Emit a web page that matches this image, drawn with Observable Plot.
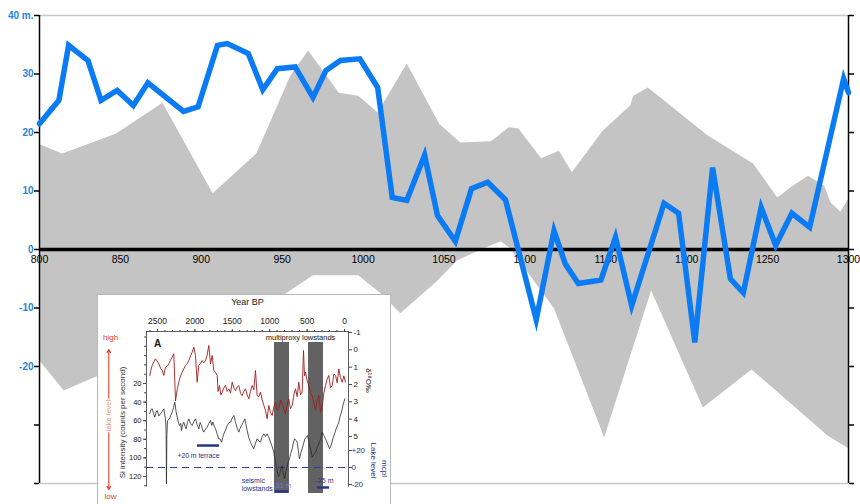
<!DOCTYPE html>
<html><head><meta charset="utf-8">
<script src="https://cdn.jsdelivr.net/npm/d3@7"></script>
<script src="https://cdn.jsdelivr.net/npm/@observablehq/plot@0.6"></script>
<style>
body{margin:0;background:#fff;}
#wrap{position:relative;width:860px;height:504px;overflow:hidden;font-family:"Liberation Sans",Arial,sans-serif;}
#inset{position:absolute;left:97px;top:294px;width:294px;height:220px;background:#fff;border:1px solid #b8b8b8;box-sizing:border-box;overflow:hidden;}
#inset svg, #main svg{display:block;}
</style></head><body>
<div id="wrap"><div id="main"></div><div id="inset"></div></div>
<script>
// ---------- main chart data ----------
const xTicks = [800, 850, 900, 950, 1000, 1050, 1100, 1150, 1200, 1250, 1300];
const yTicks = [40, 30, 20, 10, 0, -10, -20, -30, -40];
const yTickLabels = ["40 m.", "30", "20", "10", "0", "-10", "-20", "", ""];

// blue series: [year, metres]
const blueSeries = [[800,21.5],[812,25.5],[818,34.9],[830,32.3],[838,25.5],[848,27.2],[858,24.6],[867,28.5],[889,23.6],[898,24.4],[910,34.9],[916,35.2],[929,33.5],[938,27.3],[947,30.9],[958,31.2],[969,26.0],[977,30.6],[986,32.3],[998,32.6],[1009,27.7],[1018,8.9],[1027,8.4],[1038,16.1],[1046,5.8],[1057,1.4],[1067,10.4],[1077,11.5],[1088,8.5],[1107,-12.0],[1118,3.2],[1125,-2.5],[1133,-5.8],[1147,-5.2],[1156,2.1],[1166,-9.6],[1186,7.9],[1195,6.2],[1205,-15.9],[1216,14.0],[1227,-5.0],[1235,-7.4],[1246,7.2],[1255,0.7],[1265,6.2],[1276,3.8],[1285,14.7],[1297,29.2],[1300,26.8]];

// grey envelope, upper and lower bounds: [year, metres]
const upperBound = [[800,18.0],[814,16.4],[847,19.8],[876,25.1],[907,9.6],[934,16.4],[955,29.7],[966,34.0],[985,26.8],[997,26.3],[1009,23.4],[1027,31.8],[1047,21.5],[1060,18.3],[1079,18.5],[1090,20.9],[1096,20.7],[1110,15.6],[1121,16.9],[1129,13.2],[1148,20.3],[1165,24.6],[1167,26.3],[1176,27.7],[1213,19.5],[1241,14.7],[1256,8.9],[1264,10.6],[1275,12.6],[1285,10.9],[1289,8.0],[1295,6.5],[1300,8.7]];
const lowerBound = [[800,-19.0],[815,-24.1],[950,-7.9],[969,-4.4],[997,-4.4],[1011,-7.5],[1023,-10.9],[1046,-5.3],[1058,-1.9],[1071,-0.2],[1085,1.4],[1091,0.2],[1118,-10.1],[1149,-32.1],[1178,-7.0],[1210,-27.0],[1240,-20.5],[1287,-31.8],[1300,-34.0]];

// ---------- inset data (Year BP) ----------
const insetTopTicks = [2500, 2000, 1500, 1000, 500, 0];
const siTicks = [20, 40, 60, 80, 100, 120];
const d18OTicks = [-1, 0, 1, 2, 3, 4, 5];
const lakeTicks = [20, 0, -20];
const lakeTickLabels = ["+20", "0", "-20"];
const lowstandStart = [936, 481];
const lowstandEnd = [735, 281];

// red: [BP, d18O permil]
const redSeries = [[2603,1.48],[2590,1.2],[2571,0.9],[2550,0.7],[2527,0.52],[2505,0.65],[2482,0.81],[2460,1.05],[2437,1.19],[2415,1.48],[2393,1.0],[2370,0.95],[2349,0.81],[2327,0.6],[2304,0.42],[2282,0.23],[2259,2.95],[2237,2.3],[2215,1.87],[2192,1.5],[2170,1.29],[2148,1.1],[2126,0.9],[2104,0.8],[2081,0.62],[2058,0.35],[2036,0.13],[2014,-0.15],[1992,0.33],[1970,1.87],[1948,0.9],[1925,0.8],[1903,0.62],[1880,0.75],[1858,0.62],[1836,0.3],[1814,-0.25],[1791,0.81],[1769,0.33],[1747,1.19],[1725,1.3],[1702,1.48],[1690,2.4],[1671,2.06],[1653,2.6],[1635,2.44],[1613,2.2],[1591,2.06],[1568,2.4],[1546,2.25],[1524,2.5],[1501,1.87],[1479,2.2],[1457,2.35],[1435,2.15],[1413,2.06],[1390,2.5],[1368,2.64],[1346,2.4],[1324,2.25],[1301,2.6],[1279,2.83],[1257,2.4],[1234,2.06],[1212,2.3],[1190,1.19],[1168,2.64],[1145,2.7],[1123,2.44],[1100,2.9],[1078,3.21],[1056,3.5],[1034,3.98],[1012,3.21],[990,3.6],[967,3.79],[945,3.3],[922,3.02],[900,3.5],[878,3.4],[855,2.9],[833,3.11],[811,3.4],[789,3.69],[767,3.2],[745,2.83],[722,3.4],[699,3.21],[677,2.6],[655,2.25],[633,2.7],[611,1.87],[588,2.6],[566,2.44],[548,0.04],[535,1.5],[521,1.29],[499,1.8],[477,2.06],[455,2.5],[432,2.64],[410,3.1],[388,3.5],[366,2.9],[344,2.64],[321,3.6],[298,3.21],[276,2.5],[254,2.06],[232,1.7],[210,1.48],[187,2.2],[164,2.06],[142,1.4],[120,1.48],[98,1.9],[76,1.1],[54,1.6],[31,1.87],[9,1.5],[-13,1.87]];

// black: [BP, Si counts per second]
const siSeries = [[2603,52.6],[2587,48],[2571,47.2],[2553,52],[2536,56.2],[2520,51],[2504,49.0],[2482,55],[2460,52.6],[2437,50],[2415,47.2],[2400,55],[2393,58.0],[2385,70],[2380,127.8],[2375,75],[2366,60],[2340,58.0],[2322,54],[2304,50.8],[2286,46],[2268,40.1],[2252,50],[2237,56.2],[2220,62],[2206,65.2],[2190,63],[2179,70.5],[2163,64],[2148,61.6],[2132,66],[2117,68.7],[2100,62],[2081,58.0],[2058,63],[2036,65.2],[2014,61],[1992,58.0],[1970,64],[1948,68.7],[1930,62],[1912,65.2],[1895,70],[1881,72.3],[1858,69],[1836,67.0],[1814,63],[1791,59.8],[1775,65],[1760,61.6],[1742,66],[1724,68.7],[1700,75],[1680,79.5],[1660,80],[1644,83.1],[1628,78],[1613,74.1],[1590,70],[1568,65.2],[1545,62],[1524,61.6],[1500,57],[1479,54.4],[1457,61.6],[1435,68],[1413,72.3],[1395,68],[1377,65.2],[1355,62],[1332,58.0],[1315,65],[1301,70.5],[1280,78],[1257,83.1],[1235,87],[1212,90.2],[1190,84],[1168,79.5],[1145,82],[1123,83.1],[1100,77],[1078,74.1],[1056,77],[1034,74.1],[1012,78],[989,83.1],[967,88],[945,93.8],[933,100],[922,104.6],[910,110],[900,113.5],[885,120],[869,118.9],[850,112],[833,108.2],[818,116],[802,122.5],[785,115],[767,110.0],[750,104],[736,101.0],[718,95],[699,90.2],[684,84],[668,79.5],[650,81],[633,83.1],[618,92],[602,101.0],[585,95],[566,90.2],[548,85],[530,79.5],[512,78],[495,75.9],[482,80],[468,86.7],[450,92],[432,99.2],[410,96],[388,93.8],[360,88],[334,83.1],[315,78],[298,72.3],[276,76],[254,79.5],[235,83],[218,86.7],[200,90],[187,88.5],[170,84],[156,79.5],[133,74],[111,68.7],[93,65],[76,61.6],[58,55],[40,50.8],[22,44],[9,40.1],[-4,36.5]];

// ---------- main chart ----------
const GREY = "#c4c4c4";
const BLUE = "#0b7bf4";
const LABEL_BLUE = "#2a84d6";
const band = upperBound.map(([x, y]) => ({x, y}))
  .concat(lowerBound.slice().reverse().map(([x, y]) => ({x, y})));

const main = Plot.plot({
  width: 860, height: 504,
  marginLeft: 39, marginRight: 12, marginTop: 15, marginBottom: 21,
  x: {domain: [800, 1300], axis: null},
  y: {domain: [-40, 40], axis: null},
  style: {fontFamily: "'Liberation Sans', Arial, sans-serif", background: "white", overflow: "visible"},
  marks: [
    Plot.line(band, {x: "x", y: "y", fill: GREY, stroke: "none"}),
    Plot.ruleY([40, -40], {stroke: "#c8c8c8", strokeWidth: 1.6}),
    Plot.ruleX([800, 1300], {stroke: "black", strokeWidth: 1.5}),
    Plot.axisY({anchor: "left", ticks: yTicks, tickSize: 5, tickPadding: 1, label: null,
      tickFormat: d => yTickLabels[yTicks.indexOf(d)], stroke: "black", strokeWidth: 1.5,
      fill: LABEL_BLUE, fontSize: 10, fontWeight: "bold"}),
    Plot.axisY({anchor: "right", ticks: yTicks, tickSize: 5, label: null, tickFormat: () => "",
      stroke: "black", strokeWidth: 1.5}),
    Plot.ruleY([0], {stroke: "black", strokeWidth: 3.5}),
    Plot.text(xTicks, {x: d => d, y: () => 0, dy: 10, text: d => String(d), fontSize: 10.5, fill: "black"}),
    Plot.line(blueSeries, {x: d => d[0], y: d => d[1], stroke: BLUE, strokeWidth: 5.5, strokeLinejoin: "miter", strokeMiterlimit: 6})
  ]
});
document.getElementById("main").appendChild(main);

// ---------- inset ----------
// secondary axes expressed in Si-axis units
const dToSi = d => -16.2 + 18.63 * d;
const lakeToSi = l => 110.3 - 0.914 * l;
const RED = "#a01c1c";
const NAVY = "#24348a";
const ARROW_RED = "#e0402a";

const inset = Plot.plot({
  width: 292, height: 218,
  marginLeft: 48, marginRight: 42, marginTop: 36, marginBottom: 19,
  x: {domain: [2647, -53.5], axis: null},
  y: {domain: [139.35, -35.9], axis: null},
  style: {fontFamily: "'Liberation Sans', Arial, sans-serif", background: "white", overflow: "visible"},
  marks: [
    Plot.rect(lowstandStart.map((s, i) => ({s, e: lowstandEnd[i]})),
      {x1: "s", x2: "e", y1: -24.1, y2: 138.3, fill: "#626262"}),
    Plot.ruleY([lakeToSi(0)], {x1: 2647, x2: -107, stroke: "#2c3c96", strokeWidth: 1, strokeDasharray: "7,5"}),
    Plot.line(redSeries, {x: d => d[0], y: d => dToSi(d[1]), stroke: RED, strokeWidth: 0.9}),
    Plot.line(siSeries, {x: d => d[0], y: d => d[1], stroke: "#2a2a2a", strokeWidth: 0.8}),
    // frame (top, left, right)
    Plot.ruleY([-35.9], {stroke: "#333", strokeWidth: 0.8}),
    Plot.ruleX([2647, -53.5], {y1: -35.9, y2: 131.5, stroke: "#333", strokeWidth: 0.8}),
    Plot.axisX({anchor: "top", ticks: d3.range(0, 2700, 100), tickSize: 2, tickFormat: () => "", stroke: "#444"}),
    Plot.axisX({anchor: "top", ticks: insetTopTicks, tickSize: 3, tickPadding: 5, label: null, tickFormat: d => String(d), fontSize: 8.5, fill: "#222", stroke: "#444"}),
    Plot.axisY({anchor: "left", ticks: d3.range(-30, 135, 10), tickSize: 2, tickFormat: () => "", stroke: "#444"}),
    Plot.axisY({anchor: "left", ticks: siTicks, tickSize: 3, tickPadding: 2, label: null, tickFormat: d => String(d), fontSize: 7.5, fill: "#222", stroke: "#444"}),
    Plot.axisY({anchor: "right", ticks: d18OTicks.map(dToSi).concat(lakeTicks.map(lakeToSi)), tickSize: 3, tickFormat: () => "", stroke: "#444"}),
    Plot.text(d18OTicks, {y: d => dToSi(d), text: d => String(d), frameAnchor: "right", dx: 5, textAnchor: "start", fontSize: 8, fill: "#222"}),
    Plot.text(lakeTicks, {y: d => lakeToSi(d), text: (d, i) => lakeTickLabels[i], frameAnchor: "right", dx: 3, textAnchor: "start", fontSize: 8, fill: NAVY}),
    Plot.text(["Year BP"], {frameAnchor: "top", dy: -29, lineAnchor: "middle", fontSize: 9, fill: "#222"}),
    Plot.text(["A"], {x: 2500, y: -23, fontSize: 10, fontWeight: "bold", fill: "#111"}),
    Plot.text(["multiproxy lowstands"], {x: 588, y: -29.5, fontSize: 7.5, fill: "#111"}),
    // terrace and seismic lowstands
    Plot.ruleY([86.7], {x1: 1965, x2: 1671, stroke: NAVY, strokeWidth: 2.5}),
    Plot.text(["+20 m terrace"], {x: 1952, y: 97.4, fontSize: 6.8, fill: NAVY}),
    Plot.text(["seismic"], {x: 1375, y: 124.3, textAnchor: "start", fontSize: 7, fill: NAVY}),
    Plot.text(["lowstands"], {x: 1375, y: 132.9, textAnchor: "start", fontSize: 7, fill: NAVY}),
    Plot.text(["-31 m"], {x: 829, y: 129.7, fontSize: 7, fill: "#6f80e0"}),
    Plot.ruleY([136.1], {x1: 922, x2: 749, stroke: NAVY, strokeWidth: 2.5}),
    Plot.text(["-25 m"], {x: 267, y: 124.3, fontSize: 7, fill: NAVY}),
    Plot.ruleY([131.8], {x1: 361, x2: 200, stroke: NAVY, strokeWidth: 2.5}),
    // right axis titles
    Plot.text(["δ¹⁸O‰"], {x: -321, y: 16.8, rotate: 90, fontSize: 8, fill: "#222"}),
    Plot.text(["Lake level"], {x: -388, y: 102.8, rotate: 90, fontSize: 8, fill: NAVY}),
    Plot.text(["mcpl"], {x: -535, y: 111.4, rotate: 90, fontSize: 8, fill: NAVY}),
    // left axis titles
    Plot.text(["Si intensity (counts per second)"], {x: 2968, y: 61.9, rotate: -90, fontSize: 8, fill: "#333"}),
    Plot.text(["high"], {x: 3128, y: -29.5, fontSize: 8, fill: ARROW_RED}),
    Plot.text(["low"], {x: 3128, y: 141.5, fontSize: 8, fill: ARROW_RED}),
    Plot.arrow([0], {x1: 3151, x2: 3151, y1: 36, y2: -16.6, stroke: ARROW_RED, strokeWidth: 1.1, headLength: 5}),
    Plot.arrow([0], {x1: 3151, x2: 3151, y1: 73, y2: 134, stroke: ARROW_RED, strokeWidth: 1.1, headLength: 5}),
    Plot.text(["lake level"], {x: 3151, y: 54.4, rotate: -90, fontSize: 7.5, fill: "#e59a86"})
  ]
});
document.getElementById("inset").appendChild(inset);
</script>
</body></html>
